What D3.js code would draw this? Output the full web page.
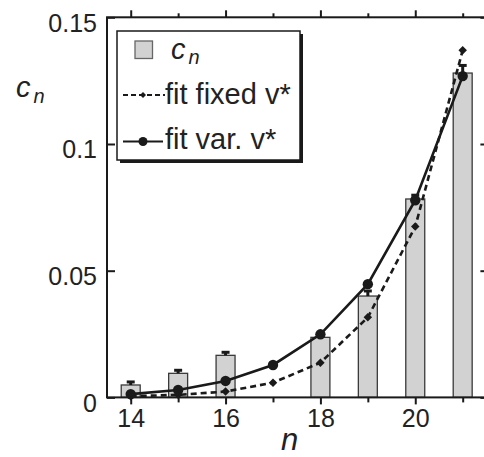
<!DOCTYPE html>
<html><head><meta charset="utf-8">
<script src="https://cdn.jsdelivr.net/npm/d3@7"></script>
<style>
html,body{margin:0;padding:0;background:#fff;}
svg{display:block;font-family:"Liberation Sans",Arial,Helvetica,sans-serif;}
</style></head>
<body>
<script>
const nValues = [14, 15, 16, 17, 18, 19, 20, 21];
const cnValues = [0.0049, 0.0095, 0.0166, null, 0.0237, 0.0400, 0.0783, 0.1280];
const cnErrors = [0.0012, 0.0012, 0.0012, null, 0.0012, 0.0020, 0.0015, 0.0030];
const fitFixed = [0.0005, 0.0010, 0.0023, 0.0058, 0.0137, 0.0316, 0.0674, 0.1370];
const fitVar = [0.0013, 0.0029, 0.0065, 0.0128, 0.0249, 0.0447, 0.0778, 0.1268];
const xTickLabels = [14, 16, 18, 20];
const yTickValues = [0, 0.05, 0.1, 0.15];
const yTickLabels = ["0", "0.05", "0.1", "0.15"];
const legendLabels = ["fit fixed v*", "fit var. v*"];

(function () {
const W = 484, H = 457;
const svg = d3.select("body").append("svg").attr("width", W).attr("height", H);
const x = d3.scaleLinear().domain([13.5, 21.5]).range([107, 486.4]);
const y = d3.scaleLinear().domain([0, 0.15]).range([397.4, 17.3]);
const ink = "#1a1a1a";

// bars
const bw = x(14.2) - x(13.8);
const barData = nValues.map((n, i) => ({n, v: cnValues[i], e: cnErrors[i]})).filter(d => d.v != null);
svg.append("g").selectAll("rect").data(barData).join("rect")
  .attr("x", d => x(d.n) - bw / 2).attr("y", d => y(d.v))
  .attr("width", bw).attr("height", d => y(0) - y(d.v))
  .attr("fill", "#d2d2d2").attr("stroke", "#3a3a3a").attr("stroke-width", 1.3);
// error bars
const eg = svg.append("g").attr("stroke", ink).attr("stroke-width", 3);
eg.selectAll("line.v").data(barData).join("line").attr("class", "v")
  .attr("x1", d => x(d.n)).attr("x2", d => x(d.n))
  .attr("y1", d => y(d.v)).attr("y2", d => y(d.v + d.e));
eg.selectAll("line.c").data(barData).join("line").attr("class", "c")
  .attr("x1", d => x(d.n) - 4).attr("x2", d => x(d.n) + 4)
  .attr("y1", d => y(d.v + d.e)).attr("y2", d => y(d.v + d.e));

// lines
const line = d3.line().x((d, i) => x(nValues[i])).y(d => y(d));
svg.append("path").datum(fitFixed).attr("d", line)
  .attr("fill", "none").attr("stroke", ink).attr("stroke-width", 2.6).attr("stroke-dasharray", "6,4");
svg.append("path").datum(fitVar).attr("d", line)
  .attr("fill", "none").attr("stroke", ink).attr("stroke-width", 2.6);
const diamond = d3.symbol().type(d3.symbolSquare).size(36);
svg.append("g").selectAll("path").data(fitFixed).join("path")
  .attr("d", diamond)
  .attr("transform", (d, i) => `translate(${x(nValues[i])},${y(d)}) rotate(45)`)
  .attr("fill", ink);
svg.append("g").selectAll("circle").data(fitVar).join("circle")
  .attr("cx", (d, i) => x(nValues[i])).attr("cy", d => y(d)).attr("r", 5.2)
  .attr("fill", ink);

// frame
const x0 = x.range()[0], x1 = x.range()[1], y0 = y.range()[0], y1 = y.range()[1];
svg.append("rect").attr("x", x0).attr("y", y1).attr("width", x1 - x0).attr("height", y0 - y1)
  .attr("fill", "none").attr("stroke", ink).attr("stroke-width", 2);

// axes
const minorN = nValues.filter(n => !xTickLabels.includes(n));
const axB = d3.axisBottom(x).tickValues(xTickLabels).tickSize(7).tickFormat(d3.format("d"));
const gb = svg.append("g").attr("transform", `translate(0,${y0})`).call(axB);
svg.append("g").attr("transform", `translate(0,${y0})`)
  .call(d3.axisBottom(x).tickValues(minorN).tickSize(5).tickFormat(""));
svg.append("g").attr("transform", `translate(0,${y1})`)
  .call(d3.axisTop(x).tickValues(xTickLabels).tickSize(7).tickFormat(""));
svg.append("g").attr("transform", `translate(0,${y1})`)
  .call(d3.axisTop(x).tickValues(minorN).tickSize(4).tickFormat(""));
const axL = d3.axisLeft(y).tickValues(yTickValues).tickSize(-8).tickFormat((d, i) => yTickLabels[i]);
const gl = svg.append("g").attr("transform", `translate(${x0},0)`).call(axL);
svg.append("g").attr("transform", `translate(${x1},0)`)
  .call(d3.axisRight(y).tickValues(yTickValues).tickSize(-6).tickFormat(""));

svg.selectAll(".domain").remove();
svg.selectAll(".tick line").attr("stroke", ink).attr("stroke-width", 2);
gb.selectAll(".tick text").attr("font-size", 25).attr("fill", "#222").attr("y", 12).attr("dy", "0.71em")
  .attr("font-family", "'Liberation Sans', Arial, sans-serif");
gl.selectAll(".tick text").attr("font-size", 25).attr("fill", "#222").attr("x", -10).attr("dy", "0.55em")
  .attr("font-family", "'Liberation Sans', Arial, sans-serif");

// axis labels
const yl = svg.append("text").attr("x", 16).attr("y", 97).attr("font-style", "italic").attr("fill", "#222");
yl.append("tspan").attr("font-size", 29).text("c");
yl.append("tspan").attr("font-size", 20).attr("dx", 3).attr("dy", 6).text("n");
svg.append("text").attr("x", 281).attr("y", 450).attr("font-style", "italic").attr("font-size", 31).attr("fill", "#222").text("n");

// legend
const lg = svg.append("g");
lg.append("rect").attr("x", 120).attr("y", 34).attr("width", 183).attr("height", 129).attr("fill", ink);
lg.append("rect").attr("x", 117).attr("y", 31).attr("width", 183).attr("height", 129)
  .attr("fill", "#fff").attr("stroke", ink).attr("stroke-width", 1.5);
lg.append("rect").attr("x", 135).attr("y", 41).attr("width", 17.5).attr("height", 17.5)
  .attr("fill", "#d2d2d2").attr("stroke", "#666").attr("stroke-width", 1.3);
const lc = lg.append("text").attr("x", 171).attr("y", 58.5).attr("font-style", "italic").attr("fill", "#222");
lc.append("tspan").attr("font-size", 29).text("c");
lc.append("tspan").attr("font-size", 20).attr("dx", 3).attr("dy", 5).text("n");
lg.append("line").attr("x1", 123).attr("x2", 165).attr("y1", 95).attr("y2", 95)
  .attr("stroke", ink).attr("stroke-width", 2).attr("stroke-dasharray", "5,3");
lg.append("path").attr("d", d3.symbol().type(d3.symbolSquare).size(18))
  .attr("transform", "translate(143,95) rotate(45)").attr("fill", ink);
lg.append("line").attr("x1", 123).attr("x2", 163).attr("y1", 141.5).attr("y2", 141.5)
  .attr("stroke", ink).attr("stroke-width", 2);
lg.append("circle").attr("cx", 143).attr("cy", 141.5).attr("r", 4.5).attr("fill", ink);
lg.append("text").attr("x", 165).attr("y", 103.5).attr("font-size", 29).attr("fill", "#222").text(legendLabels[0]);
lg.append("text").attr("x", 165).attr("y", 148.5).attr("font-size", 29).attr("fill", "#222").text(legendLabels[1]);
})();
</script>
</body></html>
